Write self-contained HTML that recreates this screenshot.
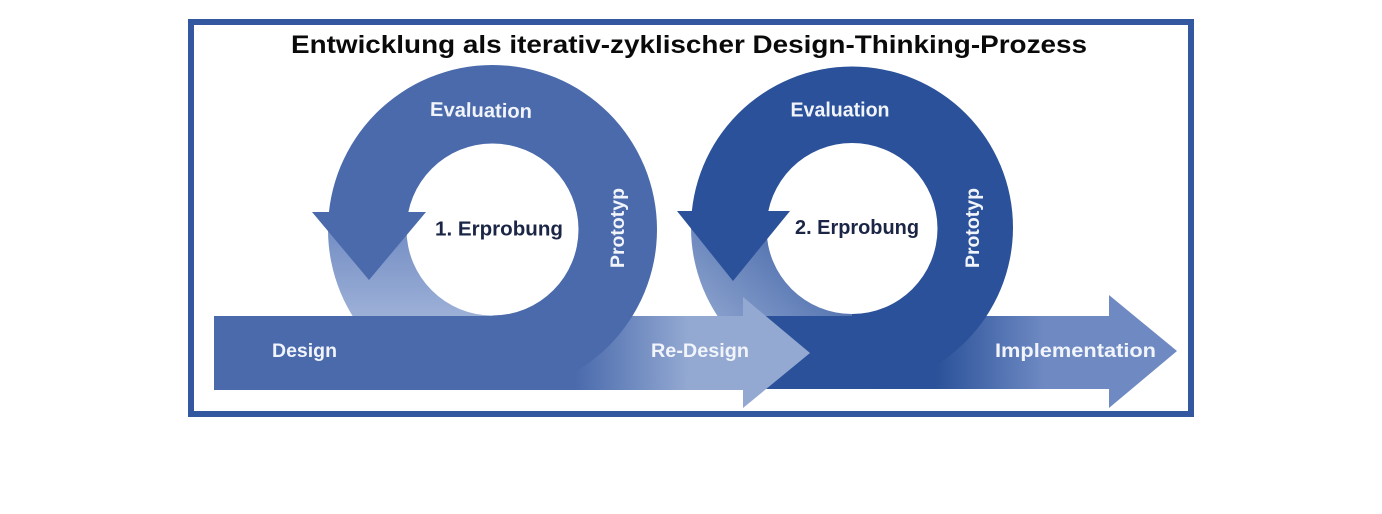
<!DOCTYPE html>
<html>
<head>
<meta charset="utf-8">
<style>
  html,body{margin:0;padding:0;background:#fff;}
  body{width:1382px;height:514px;overflow:hidden;}
  svg{display:block;}
  text{font-family:"Liberation Sans","DejaVu Sans",sans-serif;font-weight:bold;}
</style>
</head>
<body>
<svg width="1382" height="514" viewBox="0 0 1382 514" xmlns="http://www.w3.org/2000/svg">
  <defs>
    <linearGradient id="gRe" gradientUnits="userSpaceOnUse" x1="575" y1="0" x2="688" y2="0">
      <stop offset="0" stop-color="#4A6AAC"/>
      <stop offset="1" stop-color="#93A9D2"/>
    </linearGradient>
    <linearGradient id="gImp" gradientUnits="userSpaceOnUse" x1="935" y1="0" x2="1045" y2="0">
      <stop offset="0" stop-color="#2A5199"/>
      <stop offset="1" stop-color="#6F8AC3"/>
    </linearGradient>
    <linearGradient id="gL1" gradientUnits="userSpaceOnUse" x1="0" y1="212" x2="0" y2="316">
      <stop offset="0" stop-color="#6C87C0"/>
      <stop offset="1" stop-color="#9CB0D7"/>
    </linearGradient>
    <linearGradient id="gL2" gradientUnits="userSpaceOnUse" x1="795" y1="215" x2="705" y2="315">
      <stop offset="0" stop-color="#4466A8"/>
      <stop offset="1" stop-color="#8AA1CD"/>
    </linearGradient>
    <clipPath id="cDark1"><polygon points="0,0 1382,0 1382,390 492.5,390 492.5,212 0,212"/></clipPath>
    <clipPath id="cLight1"><rect x="0" y="212" width="492.5" height="104"/></clipPath>
    <clipPath id="cDark2"><polygon points="0,0 1382,0 1382,389 852,389 852,211 0,211"/></clipPath>
    <clipPath id="cLight2"><rect x="0" y="211" width="852" height="105"/></clipPath>
  </defs>

  <!-- frame -->
  <rect x="191" y="22" width="1000" height="392" fill="#fff" stroke="#3458A0" stroke-width="6"/>

  <!-- title -->
  <text x="291" y="53" font-size="25" fill="#0a0a0a" textLength="796" lengthAdjust="spacingAndGlyphs">Entwicklung als iterativ-zyklischer Design-Thinking-Prozess</text>

  <!-- ===== circle 2 (drawn first) ===== -->
  <polygon points="745,316 1109,316 1109,295 1177,351 1109,408 1109,389 745,389" fill="url(#gImp)"/>
  <g clip-path="url(#cDark2)">
    <path fill-rule="evenodd" fill="#2A5199"
      d="M691,227.5 a161,161 0 1,0 322,0 a161,161 0 1,0 -322,0 Z M766.5,228.5 a85.5,85.5 0 1,0 171,0 a85.5,85.5 0 1,0 -171,0 Z"/>
  </g>
  <g clip-path="url(#cLight2)">
    <path fill-rule="evenodd" fill="url(#gL2)"
      d="M691,227.5 a161,161 0 1,0 322,0 a161,161 0 1,0 -322,0 Z M766.5,228.5 a85.5,85.5 0 1,0 171,0 a85.5,85.5 0 1,0 -171,0 Z"/>
  </g>
  <polygon points="677,211 790,211 733,281" fill="#2A5199"/>

  <!-- ===== Design / Re-Design arrow ===== -->
  <polygon points="214,316 743,316 743,297 810,353 743,408 743,390 214,390" fill="url(#gRe)"/>

  <!-- ===== circle 1 ===== -->
  <g clip-path="url(#cDark1)">
    <path fill-rule="evenodd" fill="#4A6AAC"
      d="M328,229.5 a164.5,164.5 0 1,0 329,0 a164.5,164.5 0 1,0 -329,0 Z M406.5,229.5 a86,86 0 1,0 172,0 a86,86 0 1,0 -172,0 Z"/>
  </g>
  <g clip-path="url(#cLight1)">
    <path fill-rule="evenodd" fill="url(#gL1)"
      d="M328,229.5 a164.5,164.5 0 1,0 329,0 a164.5,164.5 0 1,0 -329,0 Z M406.5,229.5 a86,86 0 1,0 172,0 a86,86 0 1,0 -172,0 Z"/>
  </g>
  <polygon points="312,212 426,212 369,280" fill="#4A6AAC"/>

  <!-- ===== labels ===== -->
  <text x="481" y="117" font-size="20" fill="#F1F4FA" text-anchor="middle" textLength="102" lengthAdjust="spacingAndGlyphs" transform="rotate(1.2 481 112)">Evaluation</text>
  <text x="840" y="116.5" font-size="20" fill="#F1F4FA" text-anchor="middle" textLength="99" lengthAdjust="spacingAndGlyphs">Evaluation</text>

  <text x="499" y="235.5" font-size="20.5" fill="#1B2646" text-anchor="middle" textLength="128" lengthAdjust="spacingAndGlyphs">1. Erprobung</text>
  <text x="857" y="234" font-size="20.5" fill="#1B2646" text-anchor="middle" textLength="124" lengthAdjust="spacingAndGlyphs">2. Erprobung</text>

  <text transform="translate(624,228) rotate(-90)" x="0" y="0" font-size="19.5" fill="#F1F4FA" text-anchor="middle" textLength="80" lengthAdjust="spacingAndGlyphs">Prototyp</text>
  <text transform="translate(979,228) rotate(-90)" x="0" y="0" font-size="19.5" fill="#F1F4FA" text-anchor="middle" textLength="80" lengthAdjust="spacingAndGlyphs">Prototyp</text>

  <text x="272" y="357" font-size="19.5" fill="#F1F4FA" textLength="65" lengthAdjust="spacingAndGlyphs">Design</text>
  <text x="651" y="357" font-size="19.5" fill="#F1F4FA" textLength="98" lengthAdjust="spacingAndGlyphs">Re-Design</text>
  <text x="995" y="357" font-size="19.5" fill="#F1F4FA" textLength="161" lengthAdjust="spacingAndGlyphs">Implementation</text>
</svg>
</body>
</html>
